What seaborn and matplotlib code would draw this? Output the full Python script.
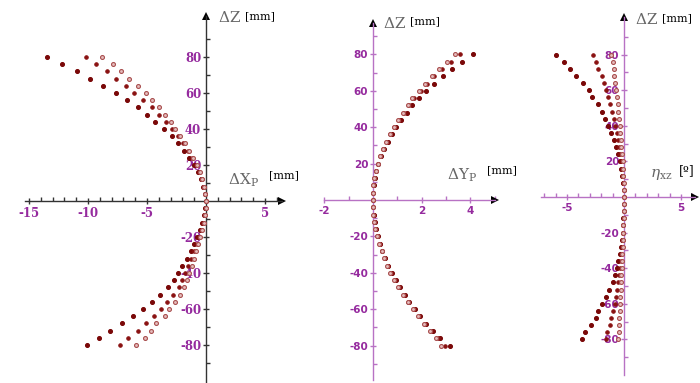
import pandas as pd
import seaborn as sns
import matplotlib.pyplot as plt
from matplotlib.ticker import FixedLocator

# z positions of the measuring points (mm), top to bottom
z_mm = [80, 76, 72, 68, 64, 60, 56, 52, 48, 44, 40, 36, 32, 28, 24, 20, 16, 12, 8, 4,
        0, -4, -8, -12, -16, -20, -24, -28, -32, -36, -40, -44, -48, -52, -56, -60,
        -64, -68, -72, -76, -80]

# panel 1: delta X_P (mm)
dxp_a = [-13.5, -12.2, -10.9, -9.8, -8.7, -7.6, -6.7, -5.8, -5.0, -4.3, -3.6, -2.9, -2.4, -1.9,
         -1.4, -1.0, -0.7, -0.45, -0.25, -0.1, 0.0, -0.05, -0.15, -0.3, -0.5, -0.75, -1.0, -1.3,
         -1.65, -2.0, -2.35, -2.7, -3.2, -3.9, -4.6, -5.3, -6.2, -7.1, -8.1, -9.1, -10.1]
dxp_b = [-10.2, -9.3, -8.4, -7.6, -6.8, -6.1, -5.3, -4.6, -4.0, -3.4, -2.9, -2.4, -1.95, -1.55,
         -1.2, -0.85, -0.6, -0.38, -0.2, -0.08, 0.0, -0.04, -0.12, -0.25, -0.4, -0.6, -0.8, -1.0,
         -1.25, -1.5, -1.8, -2.0, -2.3, -2.8, -3.3, -3.8, -4.4, -5.1, -5.8, -6.6, -7.3]
dxp_c = [-8.8, -7.9, -7.2, -6.5, -5.8, -5.1, -4.6, -4.0, -3.5, -3.0, -2.6, -2.2, -1.8, -1.45,
         -1.1, -0.8, -0.55, -0.35, -0.18, -0.06, 0.0, -0.03, -0.1, -0.2, -0.32, -0.48, -0.65, -0.82,
         -1.0, -1.2, -1.4, -1.6, -1.85, -2.2, -2.6, -3.1, -3.5, -4.2, -4.7, -5.2, -5.9]

# panel 2: delta Y_P (mm)
dyp_a = [4.12, 3.66, 3.24, 2.87, 2.5, 2.18, 1.88, 1.62, 1.38, 1.15, 0.95, 0.77, 0.6, 0.45, 0.32,
         0.22, 0.13, 0.07, 0.03, 0.01, 0.0, 0.01, 0.03, 0.07, 0.12, 0.19, 0.28, 0.38, 0.5, 0.63,
         0.78, 0.93, 1.1, 1.3, 1.5, 1.72, 1.95, 2.2, 2.47, 2.75, 3.15]
dyp_b = [3.58, 3.22, 2.82, 2.5, 2.23, 1.96, 1.67, 1.5, 1.28, 1.08, 0.88, 0.72, 0.56, 0.42, 0.3,
         0.2, 0.12, 0.06, 0.02, 0.0, 0.0, 0.01, 0.03, 0.06, 0.11, 0.18, 0.27, 0.37, 0.48, 0.61,
         0.75, 0.9, 1.07, 1.27, 1.46, 1.68, 1.9, 2.14, 2.4, 2.68, 2.98]
dyp_c = [3.39, 3.05, 2.71, 2.41, 2.15, 1.89, 1.62, 1.45, 1.23, 1.04, 0.85, 0.69, 0.54, 0.4, 0.28,
         0.19, 0.11, 0.05, 0.02, 0.0, 0.0, 0.0, 0.02, 0.05, 0.1, 0.17, 0.26, 0.35, 0.46, 0.59,
         0.72, 0.87, 1.04, 1.23, 1.42, 1.63, 1.85, 2.08, 2.33, 2.6, 2.8]

# panel 3: eta_xz (deg)
eta_a = [-6.0, -5.3, -4.7, -4.2, -3.6, -3.1, -2.8, -2.3, -1.96, -1.67, -1.4, -1.15, -0.9, -0.7,
         -0.52, -0.38, -0.26, -0.16, -0.08, -0.03, 0.0, -0.01, -0.02, -0.05, -0.08, -0.13, -0.2,
         -0.28, -0.38, -0.5, -0.64, -0.8, -1.0, -1.3, -1.6, -1.9, -2.3, -2.5, -2.9, -3.4, -3.7]
eta_b = [-2.7, -2.5, -2.25, -1.95, -1.75, -1.55, -1.38, -1.2, -1.05, -0.9, -0.77, -0.65, -0.52,
         -0.42, -0.32, -0.23, -0.15, -0.09, -0.05, -0.02, 0.0, 0.0, -0.01, -0.03, -0.05, -0.08,
         -0.12, -0.17, -0.22, -0.28, -0.35, -0.42, -0.5, -0.6, -0.7, -0.82, -0.95, -1.1, -1.25,
         -1.45, -1.6]
eta_c = [-1.1, -1.0, -0.92, -0.85, -0.78, -0.7, -0.63, -0.56, -0.5, -0.44, -0.38, -0.32, -0.27,
         -0.22, -0.17, -0.13, -0.09, -0.06, -0.03, -0.01, 0.0, -0.01, -0.02, -0.03, -0.05, -0.07,
         -0.09, -0.12, -0.14, -0.17, -0.2, -0.23, -0.26, -0.29, -0.32, -0.35, -0.38, -0.41, -0.44,
         -0.47, -0.5]

z_ticks = [80, 60, 40, 20, -20, -40, -60, -80]
z_minor = [90, 70, 50, 30, 10, -10, -30, -50, -70, -90]

sns.set_style("white")
plt.rcParams['font.family'] = ['DejaVu Serif']
plt.rcParams['mathtext.fontset'] = 'dejavuserif'
plt.rcParams['axes.unicode_minus'] = False

W, H = 700, 383
fig = plt.figure(figsize=(W / 100, H / 100), dpi=100)

purple = "#952A9E"
light_purple = "#B872C4"
series_style = [("#7A0808", "#7A0808", 8), ("#8A1212", "#8A1212", 6), ("#E6BDBD", "#A94F4F", 8)]


def make_axes(left, right, ox, oy, sx, sy):
    ax = fig.add_axes([left / W, 0, (right - left) / W, 1])
    ax.set_xlim((left - ox) / sx, (right - ox) / sx)
    ax.set_ylim((oy - H) / sy, oy / sy)
    ax.patch.set_alpha(0)
    return ax


def style_axes(ax, xb, yb, xmaj, xmin, line_col, lab_font, lab_weight, lab_size):
    for s in ['top', 'right']:
        ax.spines[s].set_visible(False)
    for s in ['left', 'bottom']:
        ax.spines[s].set_position(('data', 0))
        ax.spines[s].set_color(line_col)
        ax.spines[s].set_linewidth(1.0)
    ax.spines['bottom'].set_bounds(*xb)
    ax.spines['left'].set_bounds(*yb)
    ax.set_xticks(xmaj)
    ax.xaxis.set_minor_locator(FixedLocator(xmin))
    ax.set_yticks(z_ticks)
    ax.yaxis.set_minor_locator(FixedLocator(z_minor))
    ax.tick_params(which='both', bottom=True, left=True, top=False, right=False)
    ax.tick_params(which='major', direction='inout', length=5, width=1, color=line_col,
                   labelcolor=purple, labelsize=lab_size, pad=1)
    ax.tick_params(which='minor', direction='in', length=3, width=1, color=line_col)
    ax.tick_params(axis='x', which='major', pad=2)
    for lab in ax.get_xticklabels() + ax.get_yticklabels():
        lab.set_fontfamily(lab_font)
        lab.set_fontweight(lab_weight)
    ax.set_xlabel("")
    ax.set_ylabel("")
    ax.plot(xb[1], 0, marker='>', color='black', ms=6, mew=0, clip_on=False)
    ax.plot(0, yb[1], marker='^', color='black', ms=6, mew=0, clip_on=False)


def scatter(ax, xs_list):
    for xs, (fc, ec, s) in zip(xs_list, series_style):
        df = pd.DataFrame({"x": xs, "z": z_mm})
        sns.scatterplot(data=df, x="x", y="z", ax=ax, s=s, color=fc, edgecolor=ec,
                        linewidth=0.8, zorder=3, legend=False)


# panel 1
ax1 = make_axes(10, 300, 206, 201, 11.8, 1.8)
scatter(ax1, [dxp_a, dxp_b, dxp_c])
style_axes(ax1, (-15.3, 6.4), (-101, 103), [-15, -10, -5, 5],
           [i for i in range(-15, 7) if i % 5 != 0], "#333333", "DejaVu Serif", "bold", 8.5)

# panel 2
ax2 = make_axes(310, 520, 373, 200, 24.3, 1.82)
scatter(ax2, [dyp_a, dyp_b, dyp_c])
style_axes(ax2, (-2.0, 5.0), (-99, 97), [-2, 2, 4],
           [-1, 1, 3, 5], light_purple, "DejaVu Sans", "bold", 7.5)

# panel 3
ax3 = make_axes(530, 700, 624, 197, 11.4, 1.78)
scatter(ax3, [eta_a, eta_b, eta_c])
style_axes(ax3, (-7.3, 6.2), (-100, 101), [-5, 5],
           [i for i in range(-7, 7) if i % 5 != 0], light_purple, "DejaVu Sans", "bold", 7.5)

# axis titles
fig.text(218 / W, 1 - 18 / H, r"$\Delta$Z", color="#666666", fontsize=11, va='center')
fig.text(245 / W, 1 - 16 / H, "[mm]", color="black", fontsize=8, va='center')
fig.text(228 / W, 1 - 180 / H, r"$\Delta\mathrm{X}_\mathrm{P}$", color="#666666", fontsize=11, va='center')
fig.text(269 / W, 1 - 175 / H, "[mm]", color="black", fontsize=8, va='center')

fig.text(383 / W, 1 - 23 / H, r"$\Delta$Z", color="#666666", fontsize=11, va='center')
fig.text(410 / W, 1 - 21 / H, "[mm]", color="black", fontsize=8, va='center')
fig.text(447 / W, 1 - 175 / H, r"$\Delta\mathrm{Y}_\mathrm{P}$", color="#666666", fontsize=11, va='center')
fig.text(487 / W, 1 - 170 / H, "[mm]", color="black", fontsize=8, va='center')

fig.text(635 / W, 1 - 20 / H, r"$\Delta$Z", color="#666666", fontsize=11, va='center')
fig.text(662 / W, 1 - 18 / H, "[mm]", color="black", fontsize=8, va='center')
fig.text(650 / W, 1 - 175 / H, r"$\eta_\mathrm{xz}$", color="#666666", fontsize=11, va='center')
fig.text(679 / W, 1 - 171 / H, "[º]", color="black", fontsize=9, va='center')

fig.savefig("out.png", dpi=100)
